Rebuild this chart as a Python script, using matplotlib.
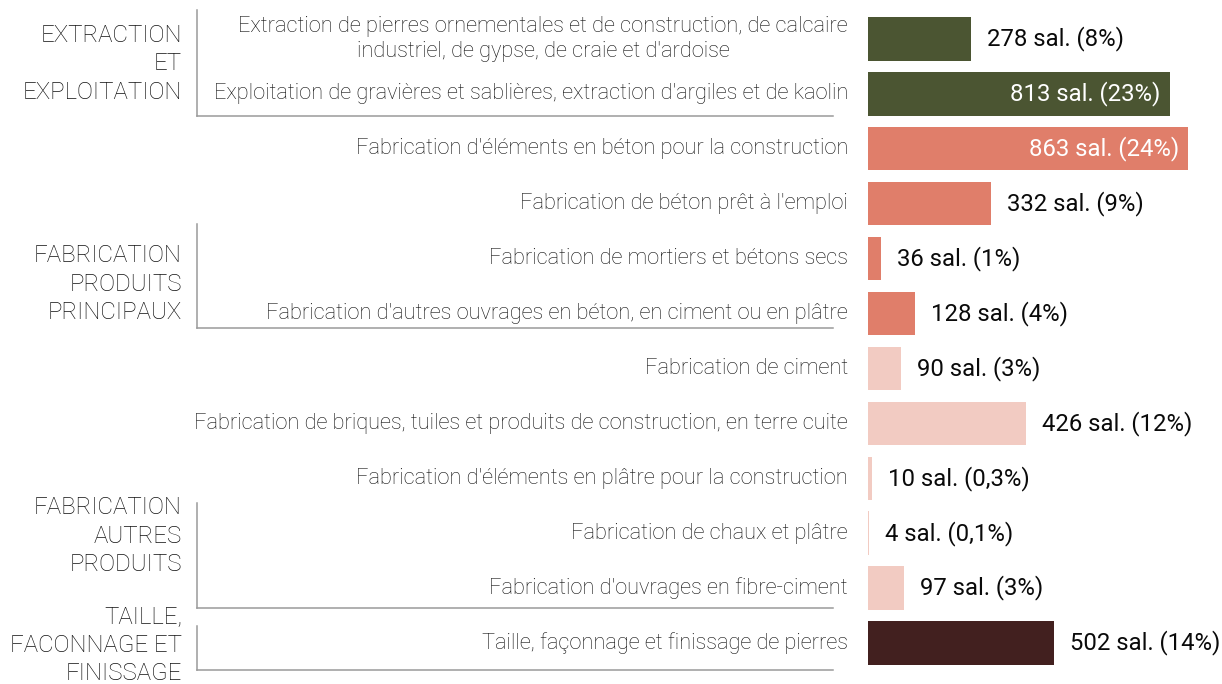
import matplotlib
matplotlib.use("Agg")
import matplotlib.pyplot as plt
from matplotlib.transforms import blended_transform_factory

plt.rcParams['font.family'] = ['Roboto', 'DejaVu Sans']

categories = [
    "Extraction de pierres ornementales et de construction, de calcaire\nindustriel, de gypse, de craie et d'ardoise",
    "Exploitation de gravières et sablières, extraction d'argiles et de kaolin",
    "Fabrication d'éléments en béton pour la construction",
    "Fabrication de béton prêt à l'emploi",
    "Fabrication de mortiers et bétons secs",
    "Fabrication d'autres ouvrages en béton, en ciment ou en plâtre",
    "Fabrication de ciment",
    "Fabrication de briques, tuiles et produits de construction, en terre cuite",
    "Fabrication d'éléments en plâtre pour la construction",
    "Fabrication de chaux et plâtre",
    "Fabrication d'ouvrages en fibre-ciment",
    "Taille, façonnage et finissage de pierres",
]
salaries = [278, 813, 863, 332, 36, 128, 90, 426, 10, 4, 97, 502]
percents = ["8%", "23%", "24%", "9%", "1%", "4%", "3%", "12%", "0,3%", "0,1%", "3%", "14%"]
group_of_row = [0, 0, 1, 1, 1, 1, 2, 2, 2, 2, 2, 3]
group_names = ["EXTRACTION\nET\nEXPLOITATION",
               "FABRICATION\nPRODUITS\nPRINCIPAUX",
               "FABRICATION\nAUTRES\nPRODUITS",
               "TAILLE,\nFACONNAGE ET\nFINISSAGE"]
group_colors = ["#4b5532", "#e07e6a", "#f2cbc2", "#42201f"]
inside_rows = [1, 2]

W, H = 1222, 684
fig = plt.figure(figsize=(W / 100, H / 100), dpi=100)

def fx(px):
    return px / W

def fy(py):
    return 1 - py / H

ax = fig.add_axes([fx(868), 0, 1 - fx(868), 1])
row_top, row_step = 39, 54.9
ax.set_xlim(0, (W - 868) / 0.371)
ax.set_ylim((H - row_top) / row_step, -row_top / row_step)
ax.axis('off')

n = len(categories)
ys = list(range(n))
colors = [group_colors[g] for g in group_of_row]
ax.barh(ys, salaries, height=0.79, color=colors, left=0)

trans = blended_transform_factory(fig.transFigure, ax.transData)
for i, (cat, v, p) in enumerate(zip(categories, salaries, percents)):
    fig.text(fx(848), i, cat, transform=trans, ha='right', va='center',
             fontsize=15.7, fontweight='light', color='#111111', multialignment='center',
             linespacing=1.22)
    label = f"{v} sal. ({p})"
    if i in inside_rows:
        ax.annotate(label, (v, i), xytext=(-9, 0), textcoords='offset pixels',
                    ha='right', va='center', fontsize=17.2, color='white')
    else:
        ax.annotate(label, (v, i), xytext=(16, 0), textcoords='offset pixels',
                    ha='left', va='center', fontsize=17.2, color='#0a0a0a')

# group labels and brackets (pixel layout)
group_label_y = [64, 284, 536, 645]
bracket_v = [(10, 116), (224, 328), (503, 608), (626, 670)]
for name, ly, (y0, y1) in zip(group_names, group_label_y, bracket_v):
    fig.text(fx(182), fy(ly), name, ha='right', va='center', fontsize=17.3,
             fontweight='light', color='#111111', linespacing=1.32)
    fig.add_artist(plt.Line2D([fx(197), fx(197)], [fy(y0), fy(y1)],
                              transform=fig.transFigure, color='#9a9a9a', lw=1.1))
    fig.add_artist(plt.Line2D([fx(197), fx(833)], [fy(y1), fy(y1)],
                              transform=fig.transFigure, color='#9a9a9a', lw=1.1))

fig.savefig("out.png", dpi=100)
